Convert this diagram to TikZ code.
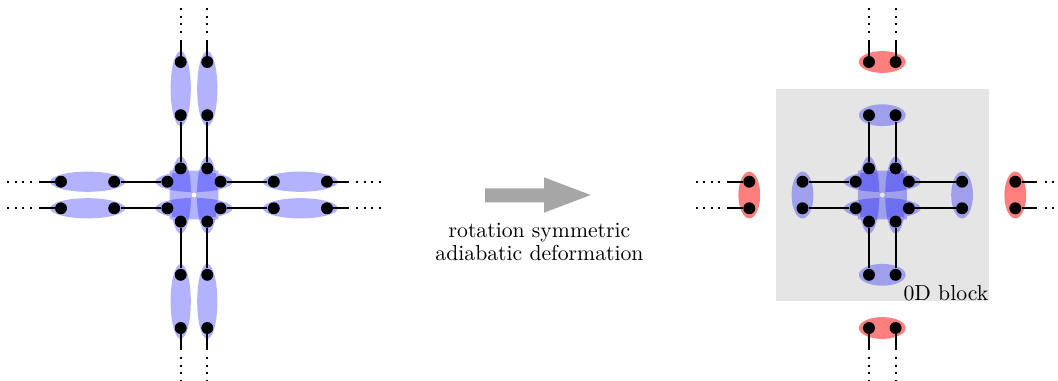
\documentclass[tikz,border=0pt]{standalone}
\tikzset{
  site/.style={circle,fill=black,inner sep=0pt,minimum size=5.5pt},
  bond/.style={line width=0.9pt},
  tail/.style={line width=0.9pt,dash pattern=on 0.9pt off 2.55pt},
  pairblue/.style={fill=blue,fill opacity=0.3},
  pairred/.style={fill=red,fill opacity=0.5},
  inner/.pic={
    \fill[pairblue] (0,0.5) ellipse [x radius=1.45,y radius=0.39]
                    (0,-0.5) ellipse [x radius=1.45,y radius=0.39]
                    (0.5,0) ellipse [x radius=0.39,y radius=1.45]
                    (-0.5,0) ellipse [x radius=0.39,y radius=1.45];
    \begin{scope}
      \clip (-0.92,-0.92) rectangle (0.92,0.92);
      \fill[pairblue,even odd rule] (-0.92,-0.92) rectangle (0.92,0.92)
                    (0,0) circle (0.1)
                    (0,0.5) ellipse [x radius=1.45,y radius=0.39]
                    (0,-0.5) ellipse [x radius=1.45,y radius=0.39]
                    (0.5,0) ellipse [x radius=0.39,y radius=1.45]
                    (-0.5,0) ellipse [x radius=0.39,y radius=1.45];
    \end{scope}
  },
}
\begin{document}
\begin{tikzpicture}[x=0.4608pt,y=-0.4608pt]
\useasboundingbox (0,0) rectangle (1058,381);
% ---------- left figure ----------
\begin{scope}[shift={(194,195)},x=12.257pt,y=12.257pt]
  \pic {inner};
  \foreach \a in {0,90,180,270}{
    \begin{scope}[rotate=\a]
      \foreach \sg/\nm in {1/a,-1/b}{
        \fill[pairblue] (4,0.5*\sg) ellipse [x radius=1.41,y radius=0.38];
        \node[site] (L\a\nm1) at (1,0.5*\sg) {};
        \node[site] (L\a\nm3) at (3,0.5*\sg) {};
        \node[site] (L\a\nm5) at (5,0.5*\sg) {};
        \coordinate (L\a\nm E) at (5.82,0.5*\sg);
        \coordinate (L\a\nm D) at (6.1,0.5*\sg);
        \coordinate (L\a\nm F) at (7.03,0.5*\sg);
        \draw[bond] (L\a\nm1) -- (L\a\nm3);
        \draw[bond] (L\a\nm5) -- (L\a\nm E);
        \draw[tail] (L\a\nm D) -- (L\a\nm F);
      }
    \end{scope}
  }
\end{scope}
% ---------- arrow and label ----------
\fill[gray!70] (485,188.3) -- (544,188.3) -- (544,177.3) -- (590.7,195)
  -- (544,212.7) -- (544,202.3) -- (485,202.3) -- cycle;
\node[align=center,font=\fontsize{10}{10.6}\selectfont,inner sep=0pt] (lbl) at (539.5,242.2)
  {rotation symmetric\\adiabatic deformation};
% ---------- right figure ----------
\begin{scope}[shift={(882.3,195)},x=12.257pt,y=12.257pt]
  \fill[gray!20] (-4,-4) rectangle (4,4);
  \pic {inner};
  \foreach \a in {0,90,180,270}{
    \begin{scope}[rotate=\a]
      \fill[pairblue] (3,0) ellipse [x radius=0.41,y radius=0.88];
      \fill[pairred] (5,0) ellipse [x radius=0.41,y radius=0.88];
      \foreach \sg/\nm in {1/a,-1/b}{
        \node[site] (R\a\nm1) at (1,0.5*\sg) {};
        \node[site] (R\a\nm3) at (3,0.5*\sg) {};
        \node[site] (R\a\nm5) at (5,0.5*\sg) {};
        \coordinate (R\a\nm E) at (5.82,0.5*\sg);
        \coordinate (R\a\nm D) at (6.1,0.5*\sg);
        \coordinate (R\a\nm F) at (7.03,0.5*\sg);
        \draw[bond] (R\a\nm1) -- (R\a\nm3);
        \draw[bond] (R\a\nm5) -- (R\a\nm E);
        \draw[tail] (R\a\nm D) -- (R\a\nm F);
      }
    \end{scope}
  }
  \node[anchor=south east,inner sep=0pt] (blk) at (4,-4) {0D block};
\end{scope}
\end{tikzpicture}
\end{document}
